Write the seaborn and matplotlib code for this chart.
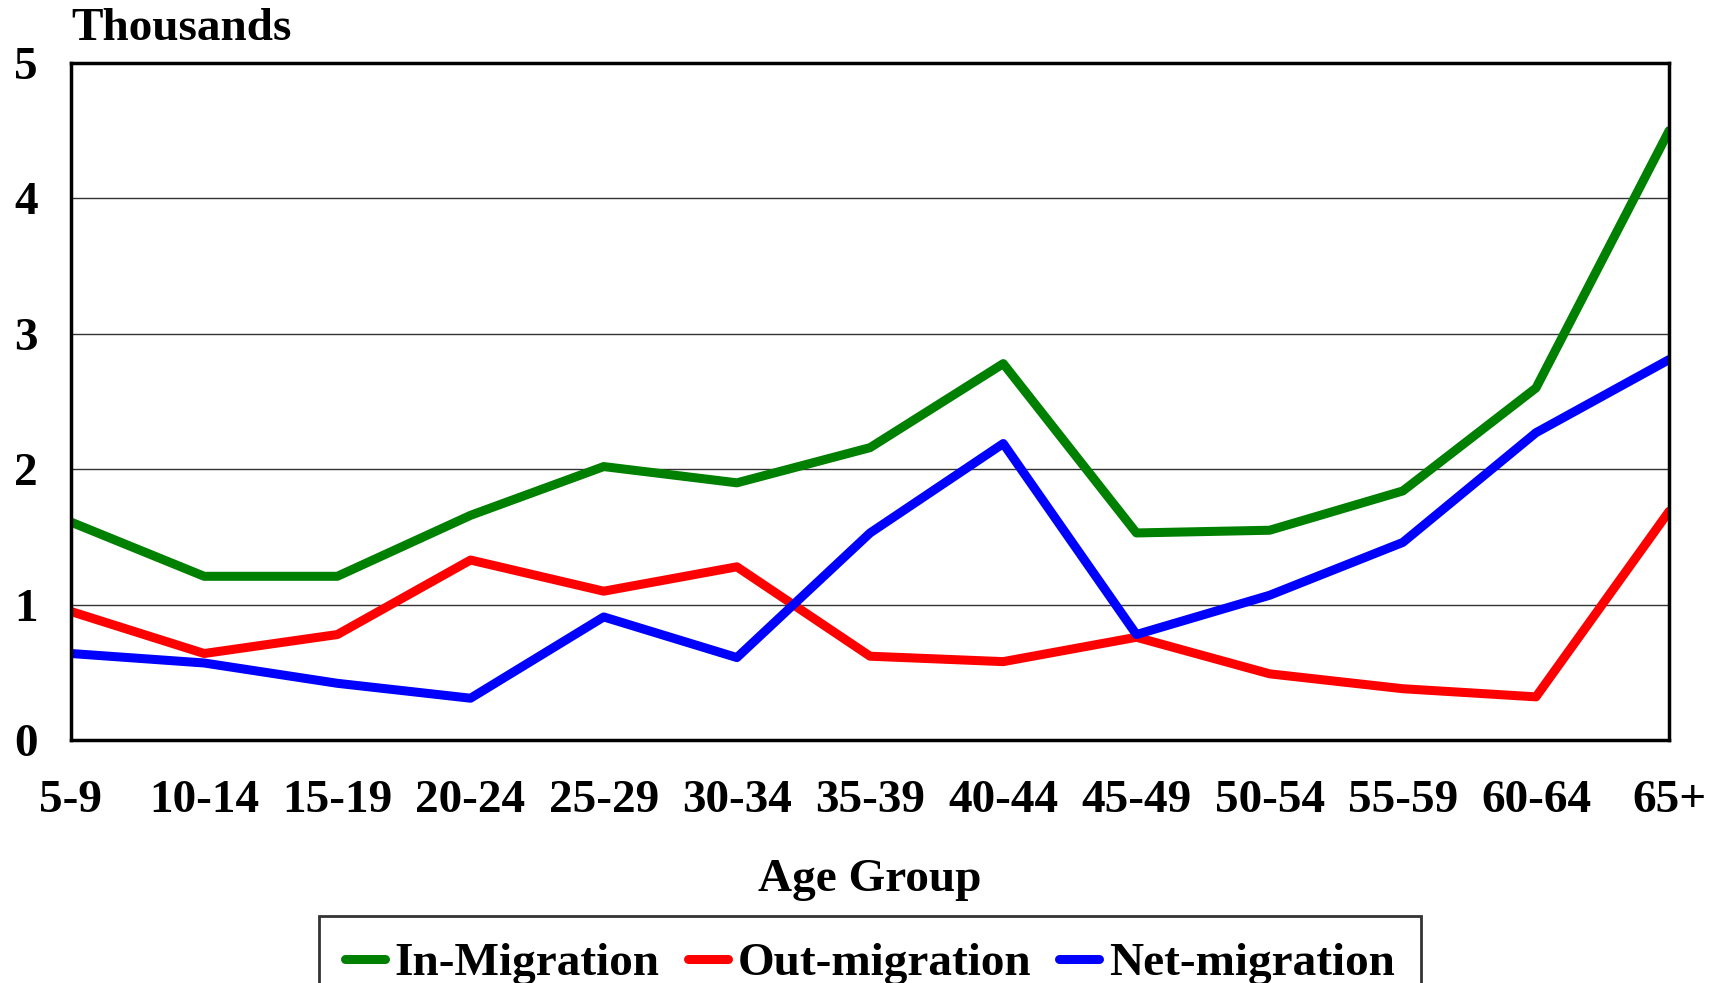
import matplotlib
matplotlib.use("Agg")
import matplotlib.pyplot as plt
import numpy as np
import pandas as pd
import seaborn as sns

# values in thousands
age_groups = ["5-9", "10-14", "15-19", "20-24", "25-29", "30-34", "35-39",
              "40-44", "45-49", "50-54", "55-59", "60-64", "65+"]
in_migration = [1.61, 1.21, 1.21, 1.66, 2.02, 1.90, 2.16, 2.78, 1.53, 1.55, 1.84, 2.60, 4.50]
out_migration = [0.95, 0.64, 0.78, 1.33, 1.10, 1.28, 0.62, 0.58, 0.76, 0.49, 0.38, 0.32, 1.69]
net_migration = [0.64, 0.57, 0.42, 0.31, 0.91, 0.61, 1.53, 2.19, 0.78, 1.07, 1.46, 2.27, 2.81]
series_names = ["In-Migration", "Out-migration", "Net-migration"]
colors = ["#008000", "#ff0000", "#0000ff"]

#Make long dataframe for seaborn
pos = np.arange(len(age_groups))
df = pd.DataFrame({
    "pos": np.tile(pos, 3),
    "Thousands": in_migration + out_migration + net_migration,
    "Series": np.repeat(series_names, len(age_groups)),
})

sns.set_style("white")
plt.rcParams["font.family"] = ["Liberation Serif", "DejaVu Serif"]
plt.rcParams["font.weight"] = "bold"
plt.rcParams["text.color"] = "black"
plt.rcParams["xtick.color"] = "black"
plt.rcParams["ytick.color"] = "black"
plt.rcParams["axes.labelcolor"] = "black"

fig = plt.figure(figsize=(17.19, 9.83), dpi=100)
ax = fig.add_axes([0.0413, 0.247, 0.9297, 0.689])

sns.lineplot(data=df, x="pos", y="Thousands", hue="Series", hue_order=series_names,
             palette=colors, linewidth=6.5, sort=False, legend=False, ax=ax)

ax.set_xlim(0, len(age_groups) - 1)
ax.set_ylim(0, 5)
ax.set_yticks(range(6))
ax.set_yticklabels([str(v) for v in range(6)], fontsize=34, fontweight="bold")
ax.set_xticks(pos)
ax.set_xticklabels(age_groups, fontsize=34, fontweight="bold")
ax.tick_params(axis="both", length=0)
ax.tick_params(axis="x", pad=29)
ax.tick_params(axis="y", pad=24)
ax.yaxis.grid(True, color="#333333", linewidth=1.0)
ax.xaxis.grid(False)
for s in ax.spines.values():
    s.set_visible(True)
    s.set_color("black")
    s.set_linewidth(2.5)

ax.set_xlabel("Age Group", fontsize=34, fontweight="bold", labelpad=26)
ax.set_ylabel("")
fig.text(0.0413, 0.971, "Thousands", fontsize=34, fontweight="bold",
         ha="left", va="center")

handles = [plt.Line2D([], [], color=c, linewidth=6.5) for c in colors]
leg = fig.legend(handles, series_names, loc="upper center",
                 bbox_to_anchor=(0.506, 0.068), ncol=3,
                 prop={"weight": "bold", "size": 34},
                 handlelength=0.85, handletextpad=0.2, columnspacing=0.6,
                 frameon=True, fancybox=False, borderpad=0.55, borderaxespad=0)
leg.get_frame().set_edgecolor("black")
leg.get_frame().set_linewidth(2)

fig.savefig("out.png", dpi=100)
